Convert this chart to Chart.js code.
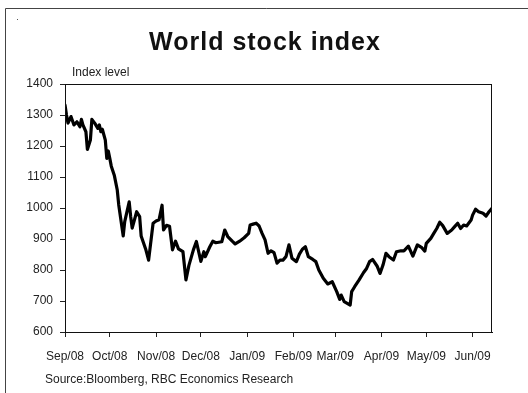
<!DOCTYPE html>
<html>
<head>
<meta charset="utf-8">
<script src="https://cdn.jsdelivr.net/npm/chart.js@4.4.1/dist/chart.umd.min.js"></script>
<style>
  html, body { margin: 0; padding: 0; background: #fff; }
  #wrap { width: 528px; height: 393px; }
</style>
</head>
<body>
<div id="wrap"><canvas id="c" width="528" height="393"></canvas></div>
<script>
// Calendar days since 1 Sep 2008 for each observation
const days = [
  0, 1, 2, 4, 6, 8, 10, 11, 12, 14, 15, 17, 18, 20, 22, 23, 24, 25, 27, 28,
  29, 30, 31, 33, 35, 36, 39, 40, 43, 44, 45, 48, 50, 51, 54, 56, 59, 61, 63, 65,
  66, 68, 70, 72, 74, 76, 79, 81, 83, 86, 88, 91, 93, 94, 97, 99, 101, 105, 107, 109,
  112, 114, 117, 120, 123, 124, 126, 128, 130, 132, 134, 136, 138, 140, 142, 144, 146, 148, 150, 152,
  155, 157, 159, 161, 163, 166, 168, 170, 173, 176, 179, 182, 184, 185, 187, 191, 192, 194, 197, 200,
  202, 204, 206, 209, 211, 213, 215, 217, 220, 222, 225, 227, 230, 233, 236, 239, 241, 242, 245, 247,
  249, 251, 253, 256, 259, 261, 263, 265, 267, 269, 272, 273, 275, 277, 280, 282, 284, 286
];

// World stock index level
const indexLevel = [
  1332, 1300, 1274, 1295, 1268, 1278, 1262, 1286, 1268, 1246, 1189, 1219, 1286, 1273, 1257, 1268, 1246, 1254, 1219, 1160,
  1184, 1160, 1135, 1106, 1058, 1010, 910, 956, 1020, 972, 935, 988, 972, 910, 868, 832, 951, 958, 962, 1009,
  929, 944, 941, 865, 893, 868, 859, 768, 815, 865, 892, 828, 859, 843, 875, 893, 888, 891, 929, 908,
  893, 884, 893, 904, 918, 945, 948, 951, 942, 918, 897, 854, 862, 856, 822, 832, 832, 843, 881, 838,
  827, 851, 867, 875, 843, 834, 827, 800, 773, 755, 762, 730, 705, 719, 698, 687, 730, 746, 768, 792,
  805, 827, 834, 813, 789, 816, 854, 843, 832, 859, 862, 862, 877, 845, 881, 872, 861, 886, 902, 918,
  934, 954, 943, 918, 929, 940, 951, 934, 945, 942, 961, 977, 996, 988, 983, 974, 988, 999
];

// Month boundaries on the time axis and their labels
const monthStarts = [0, 30, 61, 91, 122, 153, 181, 212, 242, 273];
const monthLabels = ['Sep/08', 'Oct/08', 'Nov/08', 'Dec/08', 'Jan/09', 'Feb/09', 'Mar/09', 'Apr/09', 'May/09', 'Jun/09'];

// Value axis ticks
const yTicks = [600, 700, 800, 900, 1000, 1100, 1200, 1300, 1400];

const points = days.map((d, i) => ({ x: d, y: indexLevel[i] }));

const AXIS_FONT = { family: '"Liberation Sans", Arial, sans-serif', size: 12 };
const TEXT = '#222';

// Outer frame, heading, plot box, unit label and source note
const decorations = {
  id: 'decorations',
  beforeDraw(chart) {
    const ctx = chart.ctx;
    ctx.save();
    ctx.fillStyle = '#fff';
    ctx.fillRect(0, 0, chart.width, chart.height);
    ctx.strokeStyle = '#444';
    ctx.lineWidth = 1;
    ctx.beginPath();
    ctx.moveTo(5.5, chart.height);
    ctx.lineTo(5.5, 8.5);
    ctx.lineTo(chart.width, 8.5);
    ctx.stroke();
    ctx.fillStyle = '#555';
    ctx.fillRect(17, 19, 1, 1);

    ctx.fillStyle = '#111';
    ctx.font = 'bold 25px "Liberation Sans", Arial, sans-serif';
    ctx.letterSpacing = '1px';
    ctx.textAlign = 'center';
    ctx.textBaseline = 'middle';
    ctx.fillText('World stock index', chart.width / 2 + 1, 43);
    ctx.restore();
  },
  afterDraw(chart) {
    const ctx = chart.ctx;
    const a = chart.chartArea;
    ctx.save();
    ctx.strokeStyle = '#111';
    ctx.lineWidth = 1;
    ctx.strokeRect(Math.round(a.left) + 0.5, Math.round(a.top) + 0.5,
                   Math.round(a.right - a.left) - 1, Math.round(a.bottom - a.top));
    ctx.fillStyle = TEXT;
    ctx.font = '12px "Liberation Sans", Arial, sans-serif';
    ctx.textBaseline = 'middle';
    ctx.textAlign = 'left';
    ctx.fillText('Index level', a.left + 7, a.top - 11);
    ctx.fillText('Source:Bloomberg, RBC Economics Research', 45, 380);
    ctx.restore();
  }
};

new Chart(document.getElementById('c'), {
  type: 'line',
  data: {
    datasets: [{
      data: points,
      borderColor: '#000',
      borderWidth: 3.2,
      borderJoinStyle: 'round',
      borderCapStyle: 'round',
      pointRadius: 0,
      tension: 0,
      fill: false
    }]
  },
  options: {
    responsive: false,
    animation: false,
    events: [],
    layout: { padding: { left: 5, right: 36, top: 84, bottom: 25 } },
    plugins: {
      legend: { display: false },
      tooltip: { enabled: false },
      title: { display: false }
    },
    scales: {
      x: {
        type: 'linear',
        min: 0,
        max: 286,
        afterFit(scale) { scale.height = 36; },
        afterBuildTicks(scale) { scale.ticks = monthStarts.map(v => ({ value: v })); },
        grid: { drawOnChartArea: false, drawTicks: true, tickLength: 5, tickColor: '#222' },
        border: { display: true, color: '#111', width: 1 },
        ticks: {
          autoSkip: false,
          maxRotation: 0,
          padding: 12,
          color: TEXT,
          font: AXIS_FONT,
          callback(v) {
            const i = monthStarts.indexOf(v);
            return i >= 0 ? monthLabels[i] : '';
          }
        }
      },
      y: {
        min: 600,
        max: 1400,
        afterFit(scale) { scale.width = 60; },
        afterBuildTicks(scale) { scale.ticks = yTicks.map(v => ({ value: v })); },
        grid: { drawOnChartArea: false, drawTicks: true, tickLength: 5, tickColor: '#222' },
        border: { display: true, color: '#111', width: 1 },
        ticks: { padding: 7, color: TEXT, font: AXIS_FONT, callback: v => String(v) }
      }
    }
  },
  plugins: [decorations]
});
</script>
</body>
</html>
